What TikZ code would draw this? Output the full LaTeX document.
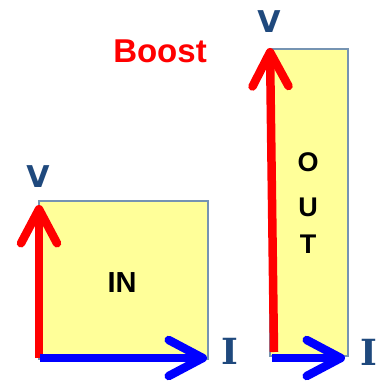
\documentclass[tikz,border=0pt]{standalone}
\usepackage{fontspec}
\setmainfont{Liberation Sans}
\newfontfamily\lblfont{DejaVu Sans}
\newfontfamily\serlblfont{DejaVu Serif}
\usetikzlibrary{arrows.meta}
\definecolor{boxfill}{RGB}{255,255,153}
\definecolor{boxline}{RGB}{118,148,178}
\definecolor{lbl}{RGB}{31,73,125}
\begin{document}
\begin{tikzpicture}[x=1pt,y=-1pt,
  powerbox/.style={draw=boxline, fill=boxfill, line width=1.6pt, inner sep=0pt},
  varrow/.style={draw=red, line width=8.5pt, -{Straight Barb[length=34pt,width=36pt,round]}},
  iarrow/.style={draw=blue, line width=8.5pt, -{Straight Barb[length=34pt,width=36pt,round]}},
  axislbl/.style={text=lbl, font=\lblfont\bfseries\fontsize{30}{30}\selectfont, inner sep=0pt},
  curlbl/.style={text=lbl, font=\serlblfont\bfseries\fontsize{36}{36}\selectfont, inner sep=0pt},
  boxtext/.style={text=black, font=\bfseries\fontsize{29}{29}\selectfont, inner sep=0pt},
  outtext/.style={text=black, font=\bfseries\fontsize{27}{27}\selectfont, inner sep=0pt},
  titletext/.style={text=red, font=\bfseries\fontsize{33}{33}\selectfont, inner sep=0pt}
]
\useasboundingbox (0,0) rectangle (377,382);
% boxes
\node[powerbox, minimum width=169pt, minimum height=158pt, anchor=north west] (in) at (38,200) {};
\node[powerbox, minimum width=78pt, minimum height=307pt, anchor=north west] (out) at (269,48) {};
% texts
\node[boxtext] (intxt) at (122,283) {IN};
\node[outtext] (o) at (308,162) {O};
\node[outtext] (u) at (308,207) {U};
\node[outtext] (t) at (308,244) {T};
\node[titletext] (boost) at (160,51) {Boost};
\node[axislbl] (v1) at (38,177) {V};
\node[axislbl] (v2) at (269,21.5) {V};
\node[curlbl] (i1) at (230,351.5) {I};
\node[curlbl] (i2) at (369,352.5) {I};
% arrow end points
\coordinate (r1s) at (39,358);
\coordinate (r1e) at (39,205);
\coordinate (b1s) at (40,358);
\coordinate (b1e) at (207,358);
\coordinate (r2s) at (274,352);
\coordinate (r2e) at (270,48);
\coordinate (b2s) at (272,358);
\coordinate (b2e) at (345,358);
% arrows
\draw[varrow] (r1s) -- (r1e);
\draw[iarrow] (b1s) -- (b1e);
\draw[varrow] (r2s) -- (r2e);
\draw[iarrow] (b2s) -- (b2e);
\end{tikzpicture}
\end{document}
